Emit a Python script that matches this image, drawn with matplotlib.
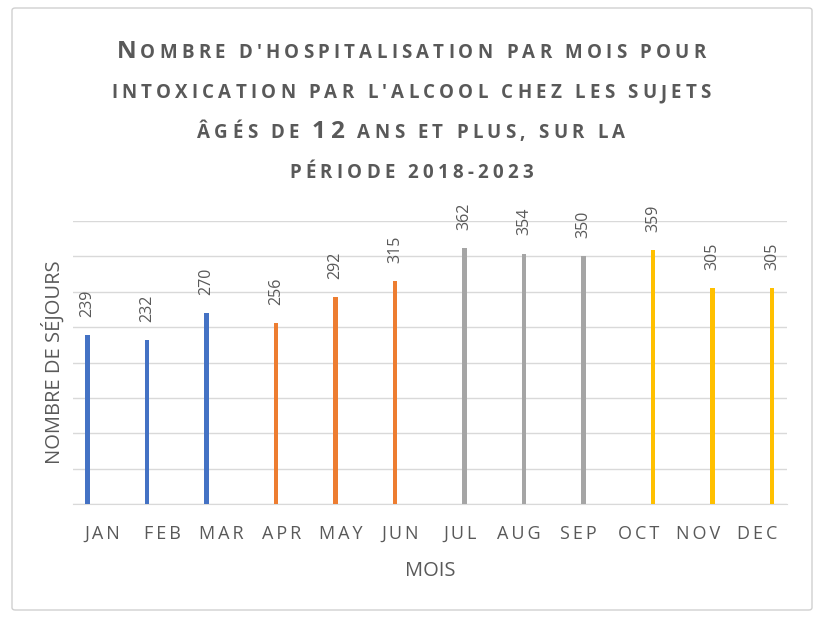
import matplotlib
matplotlib.use("Agg")
import matplotlib.pyplot as plt
from matplotlib.patches import FancyBboxPatch
import numpy as np

# --- data --------------------------------------------------------------------
months = ["JAN", "FEB", "MAR", "APR", "MAY", "JUN",
          "JUL", "AUG", "SEP", "OCT", "NOV", "DEC"]
sejours = [239, 232, 270, 256, 292, 315, 362, 354, 350, 359, 305, 305]
quarter = [0, 0, 0, 1, 1, 1, 2, 2, 2, 3, 3, 3]
quarter_colors = ["#4472C4", "#ED7D31", "#A5A5A5", "#FFC000"]

# title pieces: (text, fontsize) -> small caps look
SMALL, BIG = 13.5, 17.5
title_lines = [
    [("N", BIG), ("OMBRE D'HOSPITALISATION PAR MOIS POUR", SMALL)],
    [("INTOXICATION PAR L'ALCOOL CHEZ LES SUJETS", SMALL)],
    [("ÂGÉS DE ", SMALL), ("12", BIG), (" ANS ET PLUS, SUR LA", SMALL)],
    [("PÉRIODE 2018-2023", SMALL)],
]

TXT = "#595959"
FONT = ["Open Sans", "DejaVu Sans"]
W, H = 820, 620

fig = plt.figure(figsize=(W / 100, H / 100), dpi=100)
fig.patch.set_facecolor("white")

# outer chart frame
frame = FancyBboxPatch((12 / W, 10 / H), 800 / W, 602 / H,
                       boxstyle="round,pad=0,rounding_size=0.004",
                       transform=fig.transFigure, facecolor="none",
                       edgecolor="#D0D0D0", linewidth=1.0, zorder=-1)
fig.patches.append(frame)

ax = fig.add_axes([73 / W, 1 - 504 / H, 714 / W, (504 - 221) / H])
ax.set_facecolor("none")

x = np.arange(len(months))
step = 10 / 59.5
bar_w = 4.5 / 59.5
for i, (v, q) in enumerate(zip(sejours, quarter)):
    xi = x[i] + (q - 1.5) * step
    ax.bar(xi, v, width=bar_w, color=quarter_colors[q], zorder=3)
    ax.annotate(str(v), xy=(xi, v), xytext=(0, 13), textcoords="offset points",
                rotation=90, ha="center", va="bottom", fontsize=11.5,
                color=TXT, family=FONT, clip_on=False)

ax.set_xlim(-0.5, len(months) - 0.5)
ax.set_ylim(0, 400)
ax.set_yticks(np.arange(0, 401, 50))
ax.yaxis.grid(True, color="#D9D9D9", linewidth=1.0, zorder=0)
ax.tick_params(axis="y", left=False, labelleft=False)
ax.set_xticks(x)
ax.set_xticklabels(["\u2009".join(m) for m in months], fontsize=13,
                   color=TXT, family=FONT)
ax.tick_params(axis="x", length=0, pad=15)
for s in ["top", "right", "left"]:
    ax.spines[s].set_visible(False)
ax.spines["bottom"].set_color("#D9D9D9")

ax.set_xlabel("MOIS", fontsize=14.5, color=TXT, family=FONT, labelpad=13)
ax.set_ylabel("NOMBRE DE SÉJOURS", fontsize=14.5, color=TXT, family=FONT, labelpad=6)

# --- title in pseudo small caps with letter spacing ---------------------------
renderer = fig.canvas.get_renderer()
baselines = [58, 98, 138, 178]
track = 4.2
for pieces, yb in zip(title_lines, baselines):
    chars = []
    for s, fs in pieces:
        for ch in s:
            if ch == " ":
                chars.append((None, fs * 0.26 * 100 / 72))
            else:
                t = fig.text(0, 1 - yb / H, ch, fontsize=fs, fontweight="bold",
                             color=TXT, family=FONT, ha="left", va="baseline")
                chars.append((t, t.get_window_extent(renderer).width))
    total = sum(w for _, w in chars) + track * (len(chars) - 1)
    xpos = 411 - total / 2
    for t, w in chars:
        if t is not None:
            t.set_x(xpos / W)
        xpos += w + track

fig.savefig("out.png", dpi=100)
